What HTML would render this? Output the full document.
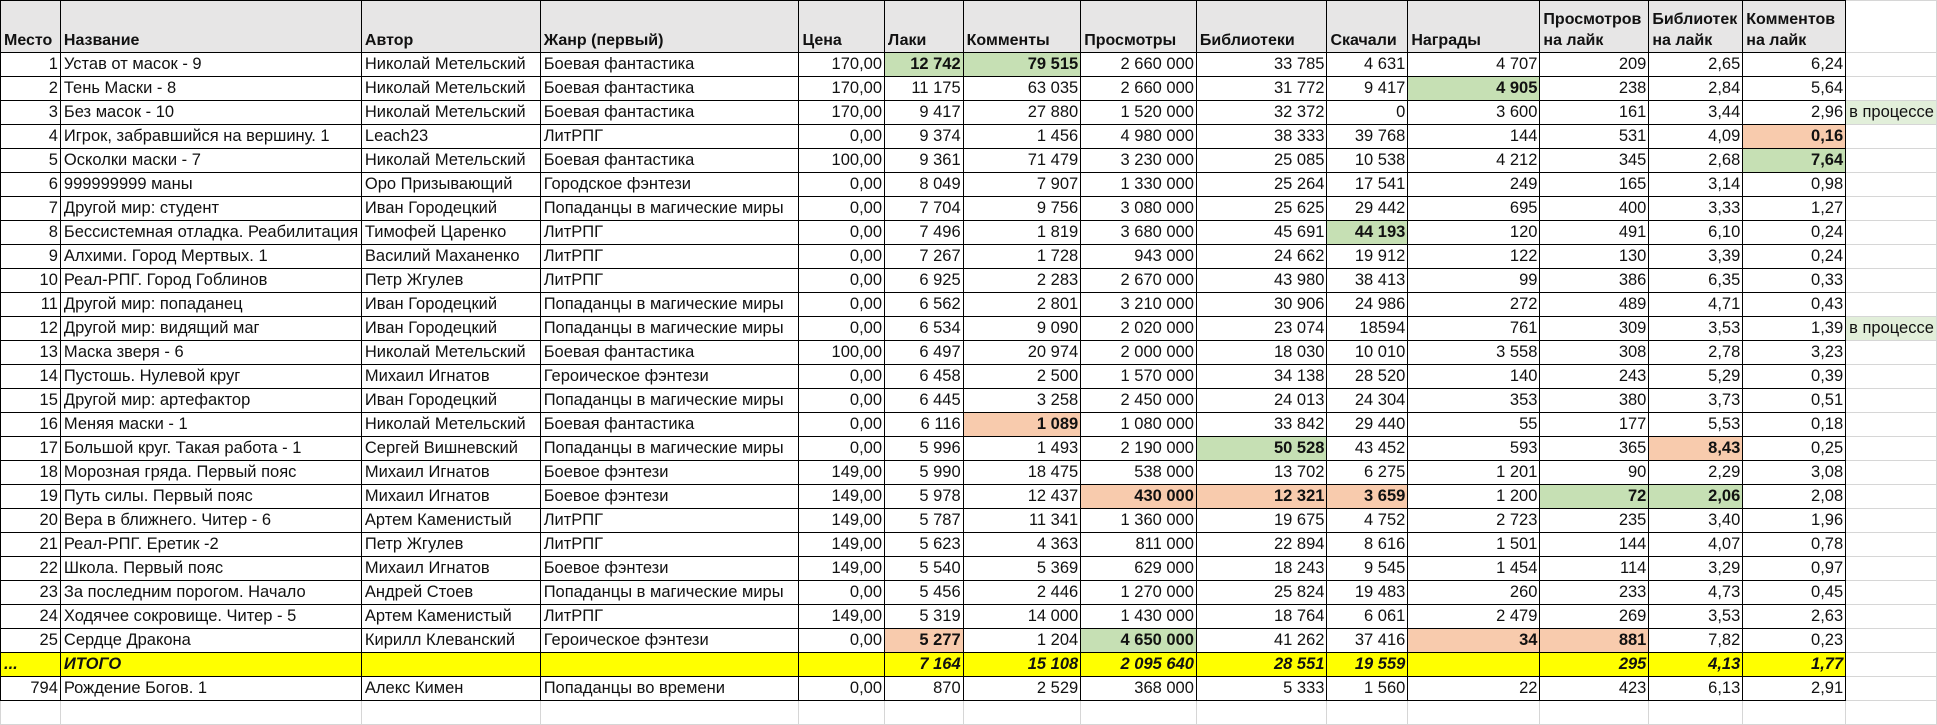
<!DOCTYPE html>
<html><head><meta charset="utf-8">
<style>
html,body{margin:0;padding:0;background:#fff;width:1937px;height:707px;overflow:hidden}
table{position:absolute;left:0;top:0;border-collapse:collapse;table-layout:fixed;font-family:"Liberation Sans","Noto Sans CJK JP",sans-serif;font-size:16.5px;color:#111}
td{border:1px solid #000;padding:0 2px 0 3px;white-space:nowrap;overflow:hidden;height:23px;line-height:23px;text-align:right}
td.t{text-align:left}
tr.h td{background:#e7e6e6;font-weight:bold;text-align:left;vertical-align:bottom;height:50px;line-height:21px;padding-bottom:1px;font-size:16px}
td.x{border:1px solid #d6d6d6;background:#fff;text-align:left}
tr.h td.x{background:#fff}
td.p{background:#e2efda;text-align:left;border-color:#d6d6d6;overflow:visible}
.g{background:#c6e0b4;font-weight:bold}
.o{background:#f8cbad;font-weight:bold}
tr.y td{background:#ffff00;font-weight:bold;font-style:italic}
tr.y td.x{background:#fff}
tr.e td{border:1px solid #d6d6d6;border-top-color:#000}
</style></head><body>
<table>
<colgroup>
<col style="width:60px"><col style="width:301px"><col style="width:179px"><col style="width:259px"><col style="width:86px"><col style="width:79px"><col style="width:118px"><col style="width:116px"><col style="width:131px"><col style="width:81px"><col style="width:133px"><col style="width:109px"><col style="width:94px"><col style="width:103px"><col style="width:88px">
</colgroup>
<tr class="h"><td>Место</td><td>Название</td><td>Автор</td><td>Жанр (первый)</td><td>Цена</td><td>Лаки</td><td>Комменты</td><td>Просмотры</td><td>Библиотеки</td><td>Скачали</td><td>Награды</td><td>Просмотров<br>на лайк</td><td>Библиотек<br>на лайк</td><td>Комментов<br>на лайк</td><td class="x"></td></tr>
<tr><td>1</td><td class="t">Устав от масок - 9</td><td class="t">Николай Метельский</td><td class="t">Боевая фантастика</td><td>170,00</td><td class="g">12 742</td><td class="g">79 515</td><td>2 660 000</td><td>33 785</td><td>4 631</td><td>4 707</td><td>209</td><td>2,65</td><td>6,24</td><td class="x"></td></tr>
<tr><td>2</td><td class="t">Тень Маски - 8</td><td class="t">Николай Метельский</td><td class="t">Боевая фантастика</td><td>170,00</td><td>11 175</td><td>63 035</td><td>2 660 000</td><td>31 772</td><td>9 417</td><td class="g">4 905</td><td>238</td><td>2,84</td><td>5,64</td><td class="x"></td></tr>
<tr><td>3</td><td class="t">Без масок - 10</td><td class="t">Николай Метельский</td><td class="t">Боевая фантастика</td><td>170,00</td><td>9 417</td><td>27 880</td><td>1 520 000</td><td>32 372</td><td>0</td><td>3 600</td><td>161</td><td>3,44</td><td>2,96</td><td class="p">в процессе</td></tr>
<tr><td>4</td><td class="t">Игрок, забравшийся на вершину. 1</td><td class="t">Leach23</td><td class="t">ЛитРПГ</td><td>0,00</td><td>9 374</td><td>1 456</td><td>4 980 000</td><td>38 333</td><td>39 768</td><td>144</td><td>531</td><td>4,09</td><td class="o">0,16</td><td class="x"></td></tr>
<tr><td>5</td><td class="t">Осколки маски - 7</td><td class="t">Николай Метельский</td><td class="t">Боевая фантастика</td><td>100,00</td><td>9 361</td><td>71 479</td><td>3 230 000</td><td>25 085</td><td>10 538</td><td>4 212</td><td>345</td><td>2,68</td><td class="g">7,64</td><td class="x"></td></tr>
<tr><td>6</td><td class="t">999999999 маны</td><td class="t">Оро Призывающий</td><td class="t">Городское фэнтези</td><td>0,00</td><td>8 049</td><td>7 907</td><td>1 330 000</td><td>25 264</td><td>17 541</td><td>249</td><td>165</td><td>3,14</td><td>0,98</td><td class="x"></td></tr>
<tr><td>7</td><td class="t">Другой мир: студент</td><td class="t">Иван Городецкий</td><td class="t">Попаданцы в магические миры</td><td>0,00</td><td>7 704</td><td>9 756</td><td>3 080 000</td><td>25 625</td><td>29 442</td><td>695</td><td>400</td><td>3,33</td><td>1,27</td><td class="x"></td></tr>
<tr><td>8</td><td class="t">Бессистемная отладка. Реабилитация</td><td class="t">Тимофей Царенко</td><td class="t">ЛитРПГ</td><td>0,00</td><td>7 496</td><td>1 819</td><td>3 680 000</td><td>45 691</td><td class="g">44 193</td><td>120</td><td>491</td><td>6,10</td><td>0,24</td><td class="x"></td></tr>
<tr><td>9</td><td class="t">Алхими. Город Мертвых. 1</td><td class="t">Василий Маханенко</td><td class="t">ЛитРПГ</td><td>0,00</td><td>7 267</td><td>1 728</td><td>943 000</td><td>24 662</td><td>19 912</td><td>122</td><td>130</td><td>3,39</td><td>0,24</td><td class="x"></td></tr>
<tr><td>10</td><td class="t">Реал-РПГ. Город Гоблинов</td><td class="t">Петр Жгулев</td><td class="t">ЛитРПГ</td><td>0,00</td><td>6 925</td><td>2 283</td><td>2 670 000</td><td>43 980</td><td>38 413</td><td>99</td><td>386</td><td>6,35</td><td>0,33</td><td class="x"></td></tr>
<tr><td>11</td><td class="t">Другой мир: попаданец</td><td class="t">Иван Городецкий</td><td class="t">Попаданцы в магические миры</td><td>0,00</td><td>6 562</td><td>2 801</td><td>3 210 000</td><td>30 906</td><td>24 986</td><td>272</td><td>489</td><td>4,71</td><td>0,43</td><td class="x"></td></tr>
<tr><td>12</td><td class="t">Другой мир: видящий маг</td><td class="t">Иван Городецкий</td><td class="t">Попаданцы в магические миры</td><td>0,00</td><td>6 534</td><td>9 090</td><td>2 020 000</td><td>23 074</td><td>18594</td><td>761</td><td>309</td><td>3,53</td><td>1,39</td><td class="p">в процессе</td></tr>
<tr><td>13</td><td class="t">Маска зверя - 6</td><td class="t">Николай Метельский</td><td class="t">Боевая фантастика</td><td>100,00</td><td>6 497</td><td>20 974</td><td>2 000 000</td><td>18 030</td><td>10 010</td><td>3 558</td><td>308</td><td>2,78</td><td>3,23</td><td class="x"></td></tr>
<tr><td>14</td><td class="t">Пустошь. Нулевой круг</td><td class="t">Михаил Игнатов</td><td class="t">Героическое фэнтези</td><td>0,00</td><td>6 458</td><td>2 500</td><td>1 570 000</td><td>34 138</td><td>28 520</td><td>140</td><td>243</td><td>5,29</td><td>0,39</td><td class="x"></td></tr>
<tr><td>15</td><td class="t">Другой мир: артефактор</td><td class="t">Иван Городецкий</td><td class="t">Попаданцы в магические миры</td><td>0,00</td><td>6 445</td><td>3 258</td><td>2 450 000</td><td>24 013</td><td>24 304</td><td>353</td><td>380</td><td>3,73</td><td>0,51</td><td class="x"></td></tr>
<tr><td>16</td><td class="t">Меняя маски - 1</td><td class="t">Николай Метельский</td><td class="t">Боевая фантастика</td><td>0,00</td><td>6 116</td><td class="o">1 089</td><td>1 080 000</td><td>33 842</td><td>29 440</td><td>55</td><td>177</td><td>5,53</td><td>0,18</td><td class="x"></td></tr>
<tr><td>17</td><td class="t">Большой круг. Такая работа - 1</td><td class="t">Сергей Вишневский</td><td class="t">Попаданцы в магические миры</td><td>0,00</td><td>5 996</td><td>1 493</td><td>2 190 000</td><td class="g">50 528</td><td>43 452</td><td>593</td><td>365</td><td class="o">8,43</td><td>0,25</td><td class="x"></td></tr>
<tr><td>18</td><td class="t">Морозная гряда. Первый пояс</td><td class="t">Михаил Игнатов</td><td class="t">Боевое фэнтези</td><td>149,00</td><td>5 990</td><td>18 475</td><td>538 000</td><td>13 702</td><td>6 275</td><td>1 201</td><td>90</td><td>2,29</td><td>3,08</td><td class="x"></td></tr>
<tr><td>19</td><td class="t">Путь силы. Первый пояс</td><td class="t">Михаил Игнатов</td><td class="t">Боевое фэнтези</td><td>149,00</td><td>5 978</td><td>12 437</td><td class="o">430 000</td><td class="o">12 321</td><td class="o">3 659</td><td>1 200</td><td class="g">72</td><td class="g">2,06</td><td>2,08</td><td class="x"></td></tr>
<tr><td>20</td><td class="t">Вера в ближнего. Читер - 6</td><td class="t">Артем Каменистый</td><td class="t">ЛитРПГ</td><td>149,00</td><td>5 787</td><td>11 341</td><td>1 360 000</td><td>19 675</td><td>4 752</td><td>2 723</td><td>235</td><td>3,40</td><td>1,96</td><td class="x"></td></tr>
<tr><td>21</td><td class="t">Реал-РПГ. Еретик -2</td><td class="t">Петр Жгулев</td><td class="t">ЛитРПГ</td><td>149,00</td><td>5 623</td><td>4 363</td><td>811 000</td><td>22 894</td><td>8 616</td><td>1 501</td><td>144</td><td>4,07</td><td>0,78</td><td class="x"></td></tr>
<tr><td>22</td><td class="t">Школа. Первый пояс</td><td class="t">Михаил Игнатов</td><td class="t">Боевое фэнтези</td><td>149,00</td><td>5 540</td><td>5 369</td><td>629 000</td><td>18 243</td><td>9 545</td><td>1 454</td><td>114</td><td>3,29</td><td>0,97</td><td class="x"></td></tr>
<tr><td>23</td><td class="t">За последним порогом. Начало</td><td class="t">Андрей Стоев</td><td class="t">Попаданцы в магические миры</td><td>0,00</td><td>5 456</td><td>2 446</td><td>1 270 000</td><td>25 824</td><td>19 483</td><td>260</td><td>233</td><td>4,73</td><td>0,45</td><td class="x"></td></tr>
<tr><td>24</td><td class="t">Ходячее сокровище. Читер - 5</td><td class="t">Артем Каменистый</td><td class="t">ЛитРПГ</td><td>149,00</td><td>5 319</td><td>14 000</td><td>1 430 000</td><td>18 764</td><td>6 061</td><td>2 479</td><td>269</td><td>3,53</td><td>2,63</td><td class="x"></td></tr>
<tr><td>25</td><td class="t">Сердце Дракона</td><td class="t">Кирилл Клеванский</td><td class="t">Героическое фэнтези</td><td>0,00</td><td class="o">5 277</td><td>1 204</td><td class="g">4 650 000</td><td>41 262</td><td>37 416</td><td class="o">34</td><td class="o">881</td><td>7,82</td><td>0,23</td><td class="x"></td></tr>
<tr class="y"><td class="t">...</td><td class="t">ИТОГО</td><td></td><td></td><td></td><td>7 164</td><td>15 108</td><td>2 095 640</td><td>28 551</td><td>19 559</td><td></td><td>295</td><td>4,13</td><td>1,77</td><td class="x"></td></tr>
<tr><td>794</td><td class="t">Рождение Богов. 1</td><td class="t">Алекс Кимен</td><td class="t">Попаданцы во времени</td><td>0,00</td><td>870</td><td>2 529</td><td>368 000</td><td>5 333</td><td>1 560</td><td>22</td><td>423</td><td>6,13</td><td>2,91</td><td class="x"></td></tr>
<tr class="e"><td></td><td></td><td></td><td></td><td></td><td></td><td></td><td></td><td></td><td></td><td></td><td></td><td></td><td></td><td class="x"></td></tr>
</table>
</body></html>
